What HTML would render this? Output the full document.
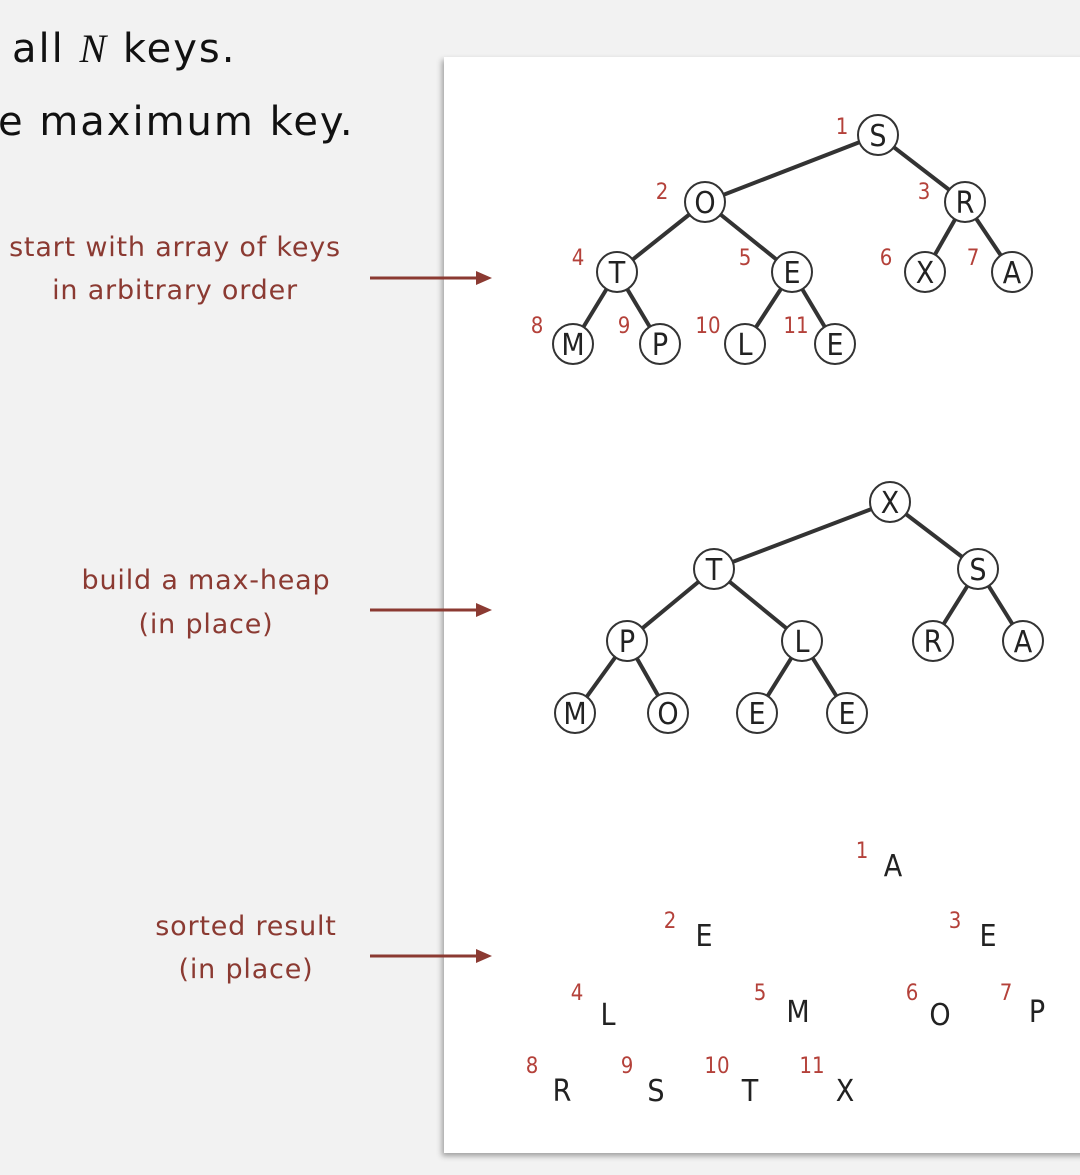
<!DOCTYPE html>
<html><head><style>
body{margin:0;width:1080px;height:1175px;background:#f2f2f2;overflow:hidden}
svg{display:block}
</style></head><body>
<svg width="1080" height="1175" xmlns="http://www.w3.org/2000/svg" font-family="'DejaVu Sans','Liberation Sans',sans-serif">
<defs><filter id="sh" x="-5%" y="-5%" width="110%" height="110%"><feDropShadow dx="-2" dy="3" stdDeviation="3" flood-color="#000" flood-opacity="0.35"/></filter></defs>
<rect x="444" y="57" width="650" height="1096" fill="#fff" filter="url(#sh)"/>
<g font-size="40" fill="#111" letter-spacing="2">
<text x="12" y="62">all <tspan font-family="'Liberation Serif',serif" font-style="italic">N</tspan> keys.</text>
<text x="-2" y="135">e maximum key.</text>
</g>
<g font-size="27" fill="#8b3a32" text-anchor="middle" letter-spacing="0.8">
<text x="175" y="256">start with array of keys</text>
<text x="175" y="299">in arbitrary order</text>
<text x="206" y="589">build a max-heap</text>
<text x="206" y="633">(in place)</text>
<text x="246" y="935">sorted result</text>
<text x="246" y="978">(in place)</text>
</g>
<g stroke="#8b3a32" stroke-width="3" fill="#8b3a32">
<line x1="370" y1="278" x2="482" y2="278"/><polygon points="492,278 476,271 476,285" stroke="none"/>
<line x1="370" y1="610" x2="482" y2="610"/><polygon points="492,610 476,603 476,617" stroke="none"/>
<line x1="370" y1="956" x2="482" y2="956"/><polygon points="492,956 476,949 476,963" stroke="none"/>
</g>
<g stroke="#333" stroke-width="4">
<line x1="878" y1="135" x2="705" y2="202"/><line x1="878" y1="135" x2="965" y2="202"/>
<line x1="705" y1="202" x2="617" y2="272"/><line x1="705" y1="202" x2="792" y2="272"/>
<line x1="965" y1="202" x2="925" y2="272"/><line x1="965" y1="202" x2="1012" y2="272"/>
<line x1="617" y1="272" x2="573" y2="344"/><line x1="617" y1="272" x2="660" y2="344"/>
<line x1="792" y1="272" x2="745" y2="344"/><line x1="792" y1="272" x2="835" y2="344"/>
<line x1="890" y1="502" x2="714" y2="569"/><line x1="890" y1="502" x2="978" y2="569"/>
<line x1="714" y1="569" x2="627" y2="641"/><line x1="714" y1="569" x2="802" y2="641"/>
<line x1="978" y1="569" x2="933" y2="641"/><line x1="978" y1="569" x2="1023" y2="641"/>
<line x1="627" y1="641" x2="575" y2="713"/><line x1="627" y1="641" x2="668" y2="713"/>
<line x1="802" y1="641" x2="757" y2="713"/><line x1="802" y1="641" x2="847" y2="713"/>
</g>
<g stroke="#333" stroke-width="2" fill="#fff">
<circle cx="878" cy="135" r="20"/><circle cx="705" cy="202" r="20"/><circle cx="965" cy="202" r="20"/>
<circle cx="617" cy="272" r="20"/><circle cx="792" cy="272" r="20"/><circle cx="925" cy="272" r="20"/><circle cx="1012" cy="272" r="20"/>
<circle cx="573" cy="344" r="20"/><circle cx="660" cy="344" r="20"/><circle cx="745" cy="344" r="20"/><circle cx="835" cy="344" r="20"/>
<circle cx="890" cy="502" r="20"/><circle cx="714" cy="569" r="20"/><circle cx="978" cy="569" r="20"/>
<circle cx="627" cy="641" r="20"/><circle cx="802" cy="641" r="20"/><circle cx="933" cy="641" r="20"/><circle cx="1023" cy="641" r="20"/>
<circle cx="575" cy="713" r="20"/><circle cx="668" cy="713" r="20"/><circle cx="757" cy="713" r="20"/><circle cx="847" cy="713" r="20"/>
</g>
<g font-size="30" fill="#222" text-anchor="middle" font-family="'DejaVu Sans Condensed',sans-serif">
<text x="878" y="146">S</text><text x="705" y="213">O</text><text x="965" y="213">R</text>
<text x="617" y="283">T</text><text x="792" y="283">E</text><text x="925" y="283">X</text><text x="1012" y="283">A</text>
<text x="573" y="355">M</text><text x="660" y="355">P</text><text x="745" y="355">L</text><text x="835" y="355">E</text>
<text x="890" y="513">X</text><text x="714" y="580">T</text><text x="978" y="580">S</text>
<text x="627" y="652">P</text><text x="802" y="652">L</text><text x="933" y="652">R</text><text x="1023" y="652">A</text>
<text x="575" y="724">M</text><text x="668" y="724">O</text><text x="757" y="724">E</text><text x="847" y="724">E</text>
<text x="893" y="876">A</text><text x="704" y="946">E</text><text x="988" y="946">E</text>
<text x="608" y="1025">L</text><text x="798" y="1022">M</text><text x="940" y="1025">O</text><text x="1037" y="1022">P</text>
<text x="562" y="1101">R</text><text x="656" y="1101">S</text><text x="750" y="1101">T</text><text x="845" y="1101">X</text>
</g>
<g font-size="22" fill="#b4413a" text-anchor="middle" font-family="'DejaVu Sans Condensed',sans-serif">
<text x="842" y="134">1</text><text x="662" y="199">2</text><text x="924" y="199">3</text>
<text x="578" y="265">4</text><text x="745" y="265">5</text><text x="886" y="265">6</text><text x="973" y="265">7</text>
<text x="537" y="333">8</text><text x="624" y="333">9</text><text x="708" y="333">10</text><text x="796" y="333">11</text>
<text x="862" y="858">1</text><text x="670" y="928">2</text><text x="955" y="928">3</text>
<text x="577" y="1000">4</text><text x="760" y="1000">5</text><text x="912" y="1000">6</text><text x="1006" y="1000">7</text>
<text x="532" y="1073">8</text><text x="627" y="1073">9</text><text x="717" y="1073">10</text><text x="812" y="1073">11</text>
</g>
</svg>
</body></html>
